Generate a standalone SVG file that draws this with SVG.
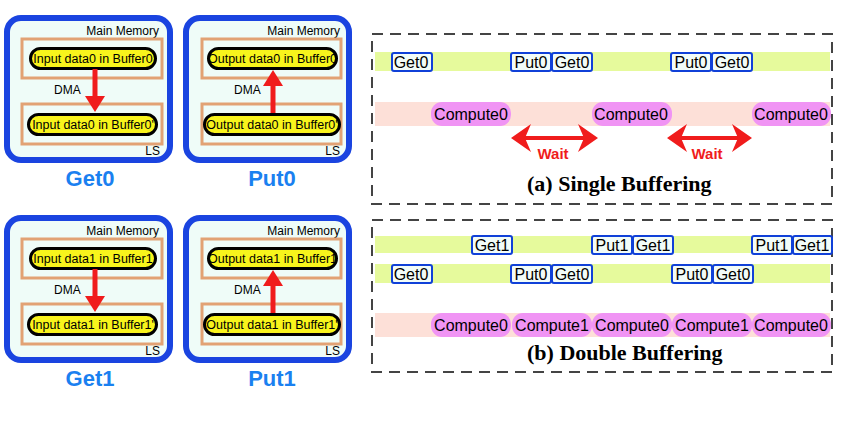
<svg xmlns="http://www.w3.org/2000/svg" width="850" height="427" viewBox="0 0 850 427">
<defs>
<style>
.outer{fill:#effcf8;stroke:#1a44e0;stroke-width:6}
.mem{fill:none;stroke:#e2a274;stroke-width:3}
.pill{fill:#f8f41c;stroke:#000;stroke-width:3}
.t12{font-family:"Liberation Sans",Arial,sans-serif;font-size:12px;fill:#000}
.pt{font-family:"Liberation Sans",Arial,sans-serif;font-size:12.5px;fill:#000;text-anchor:middle}
.big{font-family:"Liberation Sans",Arial,sans-serif;font-size:22px;font-weight:bold;fill:#1a80f0;text-anchor:middle}
.dma{stroke:#f01c1c;stroke-width:5;fill:none}
.ah{fill:#f01c1c}
.frame{fill:none;stroke:#444;stroke-width:2;stroke-dasharray:11 7}
.gbar{fill:#e6fa9c}
.pbar{fill:#fde0d8}
.box{fill:#f2fcf8;stroke:#1040d8;stroke-width:2}
.cmp{fill:#f094f4}
.bt{font-family:"Liberation Sans",Arial,sans-serif;font-size:16px;fill:#000;text-anchor:middle}
.wait{font-family:"Liberation Sans",Arial,sans-serif;font-size:15px;font-weight:bold;fill:#f01c1c;text-anchor:middle}
.wl{stroke:#f01c1c;stroke-width:4;fill:none;marker-start:url(#wh);marker-end:url(#wh)}
.cap{font-family:"Liberation Serif","Times New Roman",serif;font-size:22px;font-weight:bold;fill:#000}
</style>
<marker id="wh" markerUnits="userSpaceOnUse" markerWidth="20" markerHeight="28" viewBox="0 0 20 28" refX="6" refY="14" orient="auto-start-reverse">
<path d="M0,0 L20,14 L0,28 L6,14 Z" fill="#f01c1c"/>
</marker>
</defs>

<!-- Get0 -->
<g id="get0">
<rect class="outer" x="7" y="18" width="163" height="142" rx="14"/>
<text class="t12" x="159" y="35" text-anchor="end">Main Memory</text>
<rect class="mem" x="22" y="39" width="140" height="39"/>
<rect class="pill" x="30.5" y="48.5" width="125" height="20" rx="10"/>
<text class="pt" x="93" y="63">Input data0 in Buffer0</text>
<text class="t12" x="54" y="94">DMA</text>
<rect class="mem" x="22" y="104" width="140" height="40"/>
<rect class="pill" x="28.5" y="114.5" width="128" height="20" rx="10"/>
<text class="pt" x="93" y="129">Input data0 in Buffer0'</text>
<text class="t12" x="160" y="155" text-anchor="end">LS</text>
<line class="dma" x1="95" y1="69" x2="95" y2="98"/>
<polygon class="ah" points="85,96 105,96 95,112"/>
<text class="big" x="90" y="186">Get0</text>
</g>

<!-- Put0 -->
<g id="put0">
<rect class="outer" x="186" y="18" width="163" height="142" rx="14"/>
<text class="t12" x="340" y="35" text-anchor="end">Main Memory</text>
<rect class="mem" x="202" y="39" width="139" height="39"/>
<rect class="pill" x="208.5" y="48.5" width="128" height="20" rx="10"/>
<text class="pt" x="272.5" y="63">Output data0 in Buffer0</text>
<text class="t12" x="234" y="94">DMA</text>
<rect class="mem" x="202" y="104" width="139" height="40"/>
<rect class="pill" x="204.5" y="114.5" width="135" height="20" rx="10"/>
<text class="pt" x="272" y="129">Output data0 in Buffer0'</text>
<text class="t12" x="340" y="155" text-anchor="end">LS</text>
<line class="dma" x1="273" y1="113" x2="273" y2="84"/>
<polygon class="ah" points="263,86 283,86 273,70"/>
<text class="big" x="272" y="186">Put0</text>
</g>

<!-- Get1 -->
<g id="get1">
<rect class="outer" x="7" y="218" width="163" height="142" rx="14"/>
<text class="t12" x="159" y="235" text-anchor="end">Main Memory</text>
<rect class="mem" x="22" y="239" width="140" height="39"/>
<rect class="pill" x="30.5" y="248.5" width="125" height="20" rx="10"/>
<text class="pt" x="93" y="263">Input data1 in Buffer1</text>
<text class="t12" x="54" y="294">DMA</text>
<rect class="mem" x="22" y="304" width="140" height="40"/>
<rect class="pill" x="28.5" y="314.5" width="128" height="20" rx="10"/>
<text class="pt" x="93" y="329">Input data1 in Buffer1'</text>
<text class="t12" x="160" y="355" text-anchor="end">LS</text>
<line class="dma" x1="95" y1="269" x2="95" y2="298"/>
<polygon class="ah" points="85,296 105,296 95,312"/>
<text class="big" x="90" y="386">Get1</text>
</g>

<!-- Put1 -->
<g id="put1">
<rect class="outer" x="186" y="218" width="163" height="142" rx="14"/>
<text class="t12" x="340" y="235" text-anchor="end">Main Memory</text>
<rect class="mem" x="202" y="239" width="139" height="39"/>
<rect class="pill" x="208.5" y="248.5" width="128" height="20" rx="10"/>
<text class="pt" x="272.5" y="263">Output data1 in Buffer1</text>
<text class="t12" x="234" y="294">DMA</text>
<rect class="mem" x="202" y="304" width="139" height="40"/>
<rect class="pill" x="204.5" y="314.5" width="135" height="20" rx="10"/>
<text class="pt" x="272" y="329">Output data1 in Buffer1'</text>
<text class="t12" x="340" y="355" text-anchor="end">LS</text>
<line class="dma" x1="273" y1="313" x2="273" y2="284"/>
<polygon class="ah" points="263,286 283,286 273,270"/>
<text class="big" x="272" y="386">Put1</text>
</g>

<!-- (a) Single Buffering -->
<g id="single">
<rect class="frame" x="372" y="34" width="460" height="170"/>
<rect class="gbar" x="375" y="52" width="455" height="19"/>
<rect class="pbar" x="375" y="102" width="455" height="24"/>
<rect class="box" x="392" y="53" width="40" height="18" rx="2"/>
<text class="bt" x="411" y="68">Get0</text>
<rect class="box" x="511" y="53" width="40" height="18" rx="2"/>
<text class="bt" x="531" y="68">Put0</text>
<rect class="box" x="552" y="53" width="40" height="18" rx="2"/>
<text class="bt" x="572" y="68">Get0</text>
<rect class="box" x="671" y="53" width="40" height="18" rx="2"/>
<text class="bt" x="691" y="68">Put0</text>
<rect class="box" x="712" y="53" width="40" height="18" rx="2"/>
<text class="bt" x="732" y="68">Get0</text>
<rect class="cmp" x="431" y="102" width="80" height="24" rx="11"/>
<text class="bt" x="471" y="120">Compute0</text>
<rect class="cmp" x="592" y="102" width="80" height="24" rx="11"/>
<text class="bt" x="631" y="120">Compute0</text>
<rect class="cmp" x="752" y="102" width="79" height="24" rx="11"/>
<text class="bt" x="791" y="120">Compute0</text>
<line class="wl" x1="525" y1="138" x2="584" y2="138"/>
<text class="wait" x="553" y="159">Wait</text>
<line class="wl" x1="681" y1="138" x2="738" y2="138"/>
<text class="wait" x="707" y="159">Wait</text>
<text class="cap" x="527" y="191">(a) Single Buffering</text>
</g>

<!-- (b) Double Buffering -->
<g id="double">
<rect class="frame" x="372" y="220" width="460" height="152"/>
<rect class="gbar" x="375" y="236" width="455" height="17"/>
<rect class="gbar" x="375" y="264" width="455" height="19"/>
<rect class="pbar" x="375" y="313" width="455" height="24"/>
<rect class="box" x="472" y="236" width="40" height="18" rx="2"/>
<text class="bt" x="492" y="251">Get1</text>
<rect class="box" x="592" y="236" width="40" height="18" rx="2"/>
<text class="bt" x="612" y="251">Put1</text>
<rect class="box" x="633" y="236" width="40" height="18" rx="2"/>
<text class="bt" x="653" y="251">Get1</text>
<rect class="box" x="752" y="236" width="40" height="18" rx="2"/>
<text class="bt" x="772" y="251">Put1</text>
<rect class="box" x="793" y="236" width="39" height="18" rx="2"/>
<text class="bt" x="812" y="251">Get1</text>
<rect class="box" x="392" y="265" width="40" height="18" rx="2"/>
<text class="bt" x="411" y="280">Get0</text>
<rect class="box" x="511" y="265" width="40" height="18" rx="2"/>
<text class="bt" x="531" y="280">Put0</text>
<rect class="box" x="552" y="265" width="40" height="18" rx="2"/>
<text class="bt" x="572" y="280">Get0</text>
<rect class="box" x="672" y="265" width="40" height="18" rx="2"/>
<text class="bt" x="692" y="280">Put0</text>
<rect class="box" x="713" y="265" width="40" height="18" rx="2"/>
<text class="bt" x="733" y="280">Get0</text>
<rect class="cmp" x="431" y="313" width="80" height="24" rx="11"/>
<text class="bt" x="471" y="331">Compute0</text>
<rect class="cmp" x="512" y="313" width="80" height="24" rx="11"/>
<text class="bt" x="552" y="331">Compute1</text>
<rect class="cmp" x="592" y="313" width="80" height="24" rx="11"/>
<text class="bt" x="632" y="331">Compute0</text>
<rect class="cmp" x="672" y="313" width="80" height="24" rx="11"/>
<text class="bt" x="712" y="331">Compute1</text>
<rect class="cmp" x="752" y="313" width="79" height="24" rx="11"/>
<text class="bt" x="791" y="331">Compute0</text>
<text class="cap" x="527" y="360">(b) Double Buffering</text>
</g>
</svg>
